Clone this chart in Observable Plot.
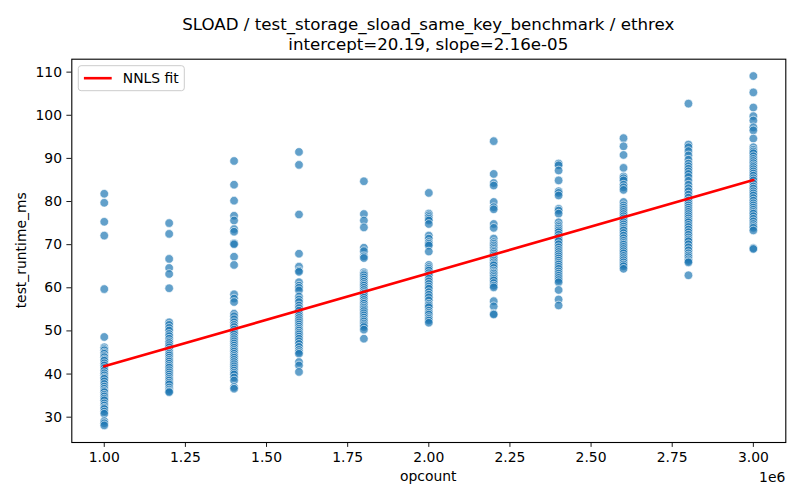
<!DOCTYPE html>
<html>
<head>
<meta charset="utf-8">
<script src="https://cdn.jsdelivr.net/npm/d3@7"></script>
<script src="https://cdn.jsdelivr.net/npm/@observablehq/plot@0.6"></script>
<style>
  html, body { margin: 0; padding: 0; background: #fff; }
  #chart { width: 800px; height: 500px; }
  text { font-family: "DejaVu Sans", sans-serif; }
</style>
</head>
<body>
<div id="chart"></div>
<script>
const opcounts = [1.0e6, 1.2e6, 1.4e6, 1.6e6, 1.8e6, 2.0e6, 2.2e6, 2.4e6, 2.6e6, 2.8e6, 3.0e6];

const runtime_1_0 = [81.8, 79.7, 75.3, 72.1, 59.7, 48.6, 46.2, 45.8, 45.5, 45.0, 44.7, 44.2, 43.9, 43.4, 43.1, 42.5, 42.0, 41.4, 40.8, 40.2, 39.7, 39.2, 38.9, 38.3, 37.7, 37.1, 36.6, 36.1, 35.8, 35.2, 34.8, 34.3, 33.9, 33.2, 32.7, 32.2, 31.9, 31.3, 30.8, 29.1, 28.6, 28.1];
const runtime_1_2 = [75.0, 72.5, 66.7, 64.6, 63.2, 59.9, 52.0, 51.4, 50.7, 50.1, 49.3, 48.8, 48.2, 47.6, 47.2, 46.7, 46.2, 45.6, 45.1, 44.7, 44.3, 43.8, 43.3, 42.9, 42.4, 41.9, 41.5, 40.9, 40.4, 39.9, 39.4, 38.9, 38.5, 38.0, 37.6, 36.9, 36.4, 36.0, 35.8];
const runtime_1_4 = [89.4, 83.9, 80.2, 76.7, 75.6, 73.6, 73.0, 70.3, 70.1, 67.2, 65.3, 58.5, 57.5, 56.7, 54.0, 53.4, 52.7, 52.0, 51.4, 50.9, 50.3, 49.7, 49.2, 48.6, 48.1, 47.6, 47.1, 46.6, 46.1, 45.6, 45.2, 44.7, 44.2, 43.8, 43.3, 42.8, 42.3, 41.8, 41.3, 40.8, 40.3, 39.9, 39.2, 38.5, 37.0, 36.6];
const runtime_1_6 = [91.5, 88.5, 77.0, 67.9, 64.9, 64.0, 63.7, 61.3, 60.5, 60.0, 59.4, 58.0, 57.3, 56.7, 55.9, 55.3, 54.7, 54.0, 53.5, 53.0, 52.5, 52.0, 51.5, 51.0, 50.5, 50.1, 49.6, 49.2, 48.7, 48.2, 47.6, 47.0, 46.3, 45.6, 45.1, 44.7, 42.8, 42.0, 40.5];
const runtime_1_8 = [84.7, 77.1, 75.6, 74.0, 69.3, 68.5, 67.3, 66.9, 63.6, 63.2, 62.9, 62.4, 61.9, 61.4, 60.9, 60.5, 60.0, 59.5, 59.0, 58.6, 58.2, 57.7, 57.2, 56.7, 56.3, 55.8, 55.4, 55.0, 54.6, 54.1, 53.6, 53.1, 52.6, 52.2, 51.7, 51.3, 50.9, 50.3, 48.2];
const runtime_2_0 = [82.0, 77.2, 76.8, 76.4, 76.0, 75.6, 74.8, 72.1, 71.4, 70.6, 70.2, 69.8, 68.4, 65.3, 64.8, 64.4, 64.0, 63.4, 62.9, 62.1, 61.5, 60.9, 60.3, 59.8, 59.0, 58.4, 57.8, 57.1, 56.3, 55.9, 55.5, 54.7, 54.2, 53.8, 53.2, 52.8, 52.4, 51.9];
const runtime_2_2 = [94.0, 86.4, 84.3, 83.7, 79.9, 78.7, 78.2, 74.8, 73.9, 71.4, 70.6, 70.2, 69.8, 69.4, 69.0, 68.6, 68.3, 67.9, 67.5, 67.1, 66.7, 66.3, 65.9, 65.5, 65.2, 64.6, 64.0, 63.6, 63.3, 62.9, 62.5, 62.1, 61.7, 61.1, 60.5, 60.1, 56.9, 55.7, 54.0, 53.8];
const runtime_2_4 = [88.8, 88.4, 87.2, 84.9, 82.4, 82.0, 81.4, 78.3, 77.9, 77.2, 75.2, 74.5, 74.1, 73.7, 73.3, 72.9, 72.3, 71.7, 71.2, 70.8, 70.1, 69.4, 68.8, 68.3, 67.8, 67.3, 66.8, 66.3, 65.8, 65.4, 64.9, 64.4, 63.8, 63.3, 62.8, 62.3, 61.8, 61.3, 59.5, 57.3, 55.9];
const runtime_2_6 = [94.7, 92.8, 90.8, 87.8, 85.8, 85.4, 84.9, 83.9, 83.3, 82.7, 79.9, 79.1, 78.6, 78.1, 77.6, 77.1, 76.6, 76.1, 75.6, 75.2, 74.7, 74.2, 73.7, 73.3, 72.7, 72.1, 71.5, 70.9, 70.4, 70.0, 69.5, 69.0, 68.5, 68.0, 67.4, 66.9, 66.4, 65.9, 65.4, 65.0, 64.4];
const runtime_2_8 = [102.7, 93.2, 92.6, 91.7, 90.7, 89.7, 88.8, 88.2, 87.6, 87.0, 86.4, 85.7, 84.8, 83.9, 83.1, 82.4, 81.6, 80.9, 80.2, 79.6, 79.1, 78.6, 78.1, 77.6, 77.1, 76.6, 76.1, 75.6, 75.2, 74.6, 74.1, 73.5, 72.9, 72.3, 71.7, 71.2, 70.8, 70.1, 69.4, 68.7, 68.0, 67.5, 67.1, 66.6, 66.2, 65.9, 62.9];
const runtime_3_0 = [109.1, 105.3, 101.8, 99.8, 98.8, 97.2, 96.5, 94.6, 92.6, 92.0, 91.6, 91.2, 90.5, 89.9, 89.4, 88.9, 88.4, 88.0, 87.5, 87.0, 86.5, 86.0, 85.4, 84.9, 84.2, 83.5, 83.0, 82.4, 81.9, 81.4, 80.8, 80.2, 79.6, 79.1, 78.6, 78.1, 77.6, 77.2, 76.6, 76.0, 75.4, 74.8, 74.3, 73.9, 73.3, 69.2, 69.0];

const fitX = [1.0e6, 3.0e6];
const fitY = [41.79, 84.99];

const xTicks = [1.0e6, 1.25e6, 1.5e6, 1.75e6, 2.0e6, 2.25e6, 2.5e6, 2.75e6, 3.0e6];
const yTicks = [30, 40, 50, 60, 70, 80, 90, 100, 110];

const titleLine1 = "SLOAD / test_storage_sload_same_key_benchmark / ethrex";
const titleLine2 = "intercept=20.19, slope=2.16e-05";

// Build tables
const columns = [runtime_1_0, runtime_1_2, runtime_1_4, runtime_1_6, runtime_1_8, runtime_2_0, runtime_2_2, runtime_2_4, runtime_2_6, runtime_2_8, runtime_3_0];
const points = [];
columns.forEach((vals, i) => vals.forEach(v => points.push({opcount: opcounts[i], runtime: v})));
const fit = fitX.map((x, i) => ({opcount: x, runtime: fitY[i]}));

const M = {top: 58.7, right: 14.7, bottom: 58, left: 71.3};
const fs = 13.9;

const plot = Plot.plot({
  width: 800,
  height: 500,
  marginTop: M.top,
  marginRight: M.right,
  marginBottom: M.bottom,
  marginLeft: M.left,
  style: {fontFamily: "DejaVu Sans, sans-serif", background: "white", overflow: "visible"},
  x: {domain: [0.9e6, 3.1e6]},
  y: {domain: [24.13, 113.0]},
  marks: [
    Plot.dot(points, {x: "opcount", y: "runtime", r: 4.3, fill: "#1f77b4", fillOpacity: 0.7, stroke: "white", strokeOpacity: 0.7, strokeWidth: 0.9}),
    Plot.line(fit, {x: "opcount", y: "runtime", stroke: "red", strokeWidth: 2.6}),
    Plot.axisX({ticks: xTicks, tickFormat: d => (d / 1e6).toFixed(2), tickSize: 4.9, tickPadding: 4.9, fontSize: fs, label: null, stroke: "black", fill: "black", strokeWidth: 0.9}),
    Plot.axisY({ticks: yTicks, tickFormat: d => String(d), tickSize: 4.9, tickPadding: 4.9, fontSize: fs, label: null, stroke: "black", fill: "black", strokeWidth: 0.9}),
    Plot.frame({stroke: "black", strokeWidth: 1.1})
  ]
});

document.getElementById("chart").appendChild(plot);

const svg = d3.select(plot);
const cx = (M.left + (800 - M.right)) / 2;

svg.append("text").attr("x", cx).attr("y", 30.4).attr("text-anchor", "middle")
  .attr("font-size", 16.67).attr("fill", "black").text(titleLine1);
svg.append("text").attr("x", cx).attr("y", 50.4).attr("text-anchor", "middle")
  .attr("font-size", 16.67).attr("fill", "black").text(titleLine2);

svg.append("text").attr("x", cx).attr("y", 481).attr("text-anchor", "middle")
  .attr("font-size", fs).attr("fill", "black").text("opcount");
svg.append("text").attr("x", 785.3).attr("y", 481.5).attr("text-anchor", "end")
  .attr("font-size", fs).attr("fill", "black").text("1e6");
svg.append("text").attr("transform", `translate(26,${(M.top + 442) / 2}) rotate(-90)`).attr("text-anchor", "middle")
  .attr("font-size", fs).attr("fill", "black").text("test_runtime_ms");

// Legend
const lg = svg.append("g");
lg.append("rect").attr("x", 78.3).attr("y", 65.7).attr("width", 106).attr("height", 25).attr("rx", 2.8)
  .attr("fill", "white").attr("fill-opacity", 0.8).attr("stroke", "#cccccc").attr("stroke-width", 1);
lg.append("line").attr("x1", 83.9).attr("x2", 111.7).attr("y1", 78.2).attr("y2", 78.2)
  .attr("stroke", "red").attr("stroke-width", 2.6);
lg.append("text").attr("x", 122.8).attr("y", 83).attr("text-anchor", "start")
  .attr("font-size", fs).attr("fill", "black").text("NNLS fit");
</script>
</body>
</html>
